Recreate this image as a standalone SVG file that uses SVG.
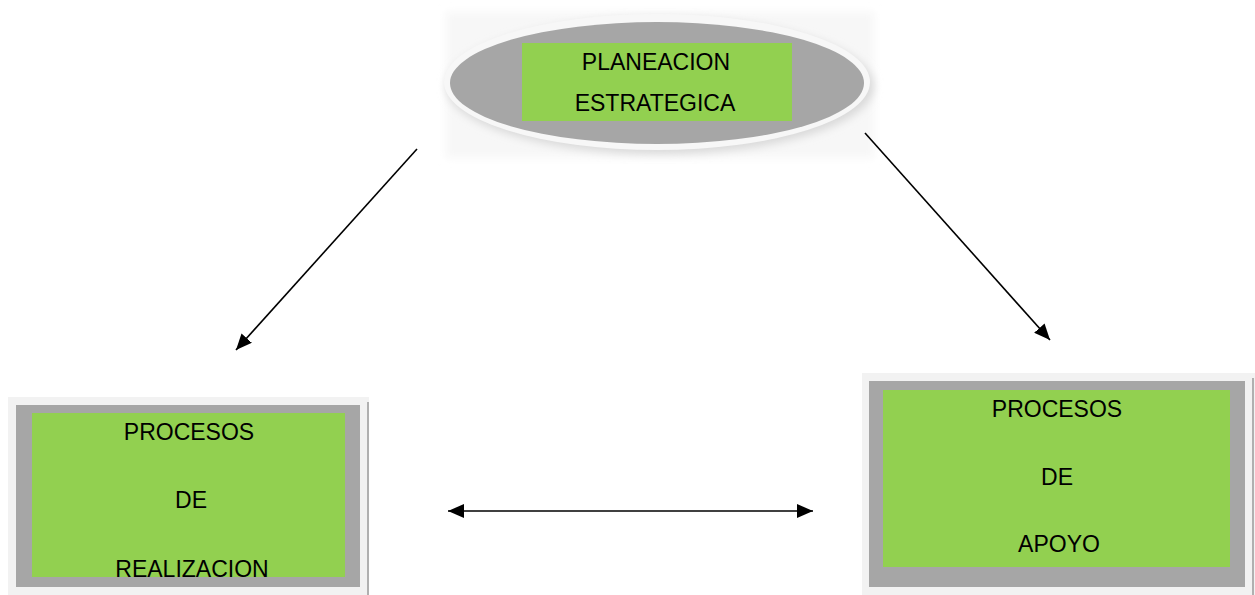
<svg xmlns="http://www.w3.org/2000/svg" width="1255" height="595" viewBox="0 0 1255 595">
  <style>
    .lbl { font-family: "Liberation Sans", Arial, sans-serif; font-size: 23px; fill: #000; text-anchor: middle; }
    .green { fill: #92d050; }
    .frame { fill: #a6a6a6; }
    .halo { fill: #f2f2f2; }
    .conn { stroke: #000; stroke-width: 1.6; fill: none; }
  </style>
  <defs>
    <marker id="arr" markerUnits="userSpaceOnUse" markerWidth="18" markerHeight="14" refX="16" refY="7" orient="auto-start-reverse">
      <path d="M0,0 L16,7 L0,14 z" fill="#000"/>
    </marker>
    <clipPath id="clipL"><rect x="32" y="413" width="313" height="164"/></clipPath>
    <filter id="soft" x="-10%" y="-20%" width="120%" height="140%">
      <feGaussianBlur stdDeviation="4"/>
    </filter>
  </defs>
  <rect width="1255" height="595" fill="#fff"/>

  <g id="planeacion">
    <rect x="446" y="12" width="428" height="146" fill="#f7f7f7" filter="url(#soft)"/>
    <ellipse cx="660" cy="86" rx="214" ry="68" fill="#d9d9d9" filter="url(#soft)"/>
    <ellipse cx="657" cy="82" rx="213" ry="68" fill="#f7f7f7"/>
    <ellipse cx="657" cy="83" rx="207" ry="61" class="frame"/>
    <rect x="522" y="43" width="270" height="78" class="green"/>
    <text class="lbl" x="656" y="70">PLANEACION</text>
    <text class="lbl" x="655" y="111">ESTRATEGICA</text>
  </g>

  <g id="realizacion">
    <rect x="8" y="397" width="361" height="198" class="halo"/>
    <rect x="367" y="402" width="2" height="193" fill="#b0b0b0"/>
    <rect x="16" y="405" width="344" height="182" class="frame"/>
    <rect x="32" y="413" width="313" height="164" class="green"/>
    <g clip-path="url(#clipL)">
      <text class="lbl" x="189" y="440">PROCESOS</text>
      <text class="lbl" x="191" y="508">DE</text>
      <text class="lbl" x="192" y="577">REALIZACION</text>
    </g>
  </g>

  <g id="apoyo">
    <rect x="862" y="373" width="393" height="222" class="halo"/>
    <rect x="1252" y="378" width="2" height="217" fill="#b0b0b0"/>
    <rect x="869" y="381" width="376" height="206" class="frame"/>
    <rect x="883" y="390" width="347" height="177" class="green"/>
    <text class="lbl" x="1057" y="417">PROCESOS</text>
    <text class="lbl" x="1057" y="485">DE</text>
    <text class="lbl" x="1059" y="552">APOYO</text>
  </g>

  <g id="connectors">
    <line class="conn" x1="417" y1="149" x2="236" y2="350" marker-end="url(#arr)"/>
    <line class="conn" x1="865" y1="133" x2="1050" y2="340" marker-end="url(#arr)"/>
    <line class="conn" x1="448" y1="511" x2="813" y2="511" stroke-width="2" marker-start="url(#arr)" marker-end="url(#arr)"/>
  </g>
</svg>
